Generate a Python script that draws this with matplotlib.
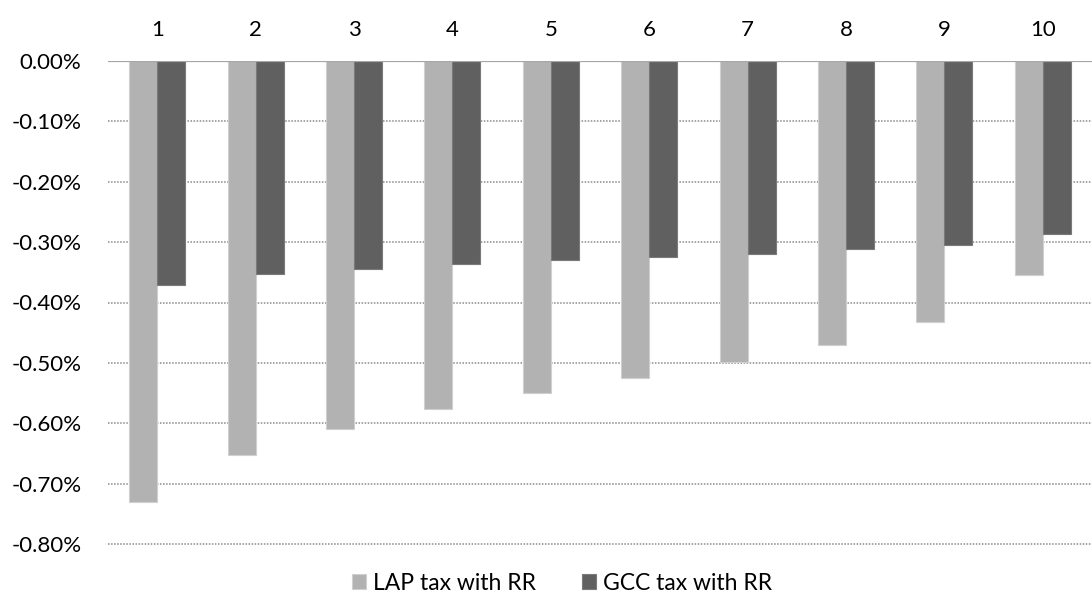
import matplotlib
matplotlib.use("Agg")
import matplotlib.pyplot as plt
from matplotlib.ticker import FuncFormatter
import numpy as np

categories = ["1", "2", "3", "4", "5", "6", "7", "8", "9", "10"]
lap_tax = [-0.731, -0.652, -0.609, -0.577, -0.550, -0.525, -0.499, -0.470, -0.432, -0.354]
gcc_tax = [-0.371, -0.353, -0.344, -0.336, -0.330, -0.324, -0.319, -0.312, -0.304, -0.286]
series_names = ["LAP tax with RR", "GCC tax with RR"]
y_ticks = [0.0, -0.1, -0.2, -0.3, -0.4, -0.5, -0.6, -0.7, -0.8]

plt.rcParams["font.family"] = ["Lato", "DejaVu Sans"]

W, H = 1092, 608
fig = plt.figure(figsize=(W / 100, H / 100), dpi=100)
ax = fig.add_axes([108 / W, (H - 544) / H, 984 / W, 483 / H])

x = np.arange(1, len(categories) + 1)
bw = 0.285
ax.bar(x - bw / 2, lap_tax, width=bw, color="#b2b2b2", edgecolor="#d0d0d0",
       linewidth=0.8, label=series_names[0], zorder=3)
ax.bar(x + bw / 2, gcc_tax, width=bw, color="#606060", edgecolor="#7a7a7a",
       linewidth=0.8, label=series_names[1], zorder=3)

ax.set_xlim(0.5, len(categories) + 0.5)
ax.set_ylim(-0.8, 0.0)
ax.set_yticks(y_ticks)
ax.yaxis.set_major_formatter(FuncFormatter(lambda v, p: f"{v:.2f}%" if abs(v) > 1e-9 else "0.00%"))
ax.set_xticks(x)
ax.set_xticklabels(categories)
ax.xaxis.tick_top()

for v in y_ticks[1:]:
    ax.axhline(v, color="#8a8a8a", linestyle=(0, (1, 1)), linewidth=1.1,
               zorder=1, clip_on=False)
ax.axhline(0, color="#a6a6a6", linewidth=1.6, zorder=4)

for s in ax.spines.values():
    s.set_visible(False)
ax.tick_params(axis="y", length=0, pad=19, labelsize=16, labelcolor="#000000")
ax.tick_params(axis="x", length=0, pad=15, labelsize=16, labelcolor="#000000")

leg = fig.legend(loc="center", bbox_to_anchor=(562 / W, 1 - 583 / H), ncol=2,
                 frameon=False, fontsize=16.5, handlelength=0.62, handleheight=0.62,
                 handletextpad=0.3, columnspacing=2.0)

fig.savefig("out.png", dpi=100)
